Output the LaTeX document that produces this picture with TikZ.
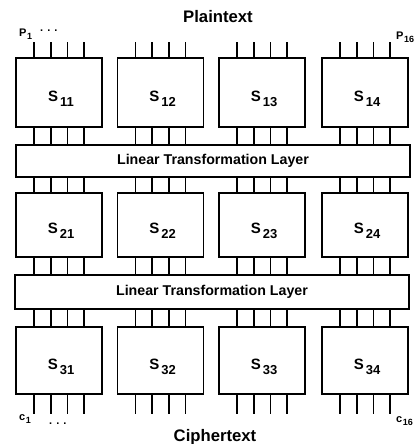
\documentclass[tikz,border=0pt]{standalone}
\usepackage{fontspec}
\setmainfont{Liberation Sans}
\newcommand{\sname}[1]{S\kern2pt\raisebox{-5pt}{\fontsize{13}{13}\selectfont #1}}
\newcommand{\ioname}[2]{#1\kern0.5pt\raisebox{-3pt}{\fontsize{9}{9}\selectfont #2}}
\tikzset{
  sbox/.style={draw,line width=1.6pt,minimum width=86pt,minimum height=#1,inner sep=0pt},
  slabel/.style={font=\bfseries\fontsize{15}{15}\selectfont,inner sep=0pt},
  ltbox/.style={draw,line width=1.6pt,minimum width=394pt,minimum height=#1,inner sep=0pt,
    font=\bfseries\fontsize{14.2}{15}\selectfont},
  pin/.style={line width=1.6pt},
  title/.style={font=\bfseries\fontsize{16.7}{18}\selectfont,inner sep=0pt},
  io/.style={font=\bfseries\fontsize{11}{11}\selectfont,inner sep=0pt}
}
\begin{document}
\begin{tikzpicture}[x=1pt,y=-1pt]
  \useasboundingbox (0,0) rectangle (414,444);
  % s-boxes
  \foreach \r/\y/\h in {1/92.5/69pt,2/225/64pt,3/360.5/67pt}
    {\foreach \c/\x in {1/59,2/160.5,3/262,4/365}
      {\node[sbox=\h] (s\r\c) at (\x,\y) {};
       \node[slabel] (l\r\c) at ([xshift=2pt,yshift=-6pt]s\r\c.center) {\sname{\r\c}};}}
  % linear layers
  \node[ltbox=32pt] (lt1) at (213,161) {Linear Transformation Layer};
  \node[ltbox=34pt] (lt2) at (212,292) {Linear Transformation Layer};
  % wires
  \foreach \c in {1,...,4}
    \foreach \dx in {-25,-8.3,8.3,25}
      {\draw[pin] ([xshift=\dx pt]s1\c.north) -- ++(0,-15);
       \draw[pin] ([xshift=\dx pt]s1\c.south) -- ([xshift=\dx pt]s1\c.south |- lt1.north);
       \draw[pin] ([xshift=\dx pt]lt1.south -| s2\c.north) -- ([xshift=\dx pt]s2\c.north);
       \draw[pin] ([xshift=\dx pt]s2\c.south) -- ([xshift=\dx pt]s2\c.south |- lt2.north);
       \draw[pin] ([xshift=\dx pt]lt2.south -| s3\c.north) -- ([xshift=\dx pt]s3\c.north);
       \draw[pin] ([xshift=\dx pt]s3\c.south) -- ++(0,19);}
  % labels
  \node[title] (pt) at (218,17) {Plaintext};
  \node[title] (ct) at (215,437) {Ciphertext};
  \node[io,anchor=west] (p1) at (19,34) {\ioname{P}{1}};
  \node[io,anchor=west] (pdots) at (40,31) {. . .};
  \node[io,anchor=west] (p16) at (396,37) {\ioname{P}{16}};
  \node[io,anchor=west] (c1) at (19,419) {\ioname{c}{1}};
  \node[io,anchor=west] (cdots) at (49,424) {. . .};
  \node[io,anchor=west] (c16) at (396,421) {\ioname{c}{16}};
\end{tikzpicture}
\end{document}
